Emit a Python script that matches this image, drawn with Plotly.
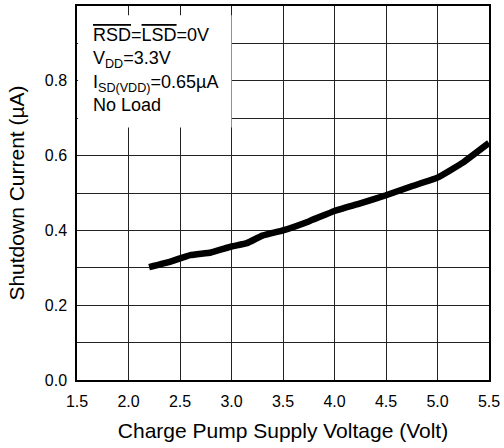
import plotly.graph_objects as go

voltage = [2.2, 2.4, 2.6, 2.8, 3.0, 3.15, 3.3, 3.5, 3.75, 4.0, 4.25, 4.5, 4.75, 5.0, 5.25, 5.5]
current = [0.302, 0.316, 0.334, 0.341, 0.357, 0.366, 0.386, 0.400, 0.424, 0.452, 0.472, 0.494, 0.518, 0.541, 0.582, 0.634]

x_ticks = [1.5, 2.0, 2.5, 3.0, 3.5, 4.0, 4.5, 5.0, 5.5]
x_labels = ["1.5", "2.0", "2.5", "3.0", "3.5", "4.0", "4.5", "5.0", "5.5"]
y_ticks = [0.0, 0.2, 0.4, 0.6, 0.8]
y_labels = ["0.0", "0.2", "0.4", "0.6", "0.8"]

note = ('<span style="text-decoration:overline">RSD</span>=<span style="text-decoration:overline">LSD</span>=0V<br>'
        'V<sub>DD</sub>=3.3V<br>'
        'I<sub>SD(VDD)</sub>=0.65\u00b5A<br>'
        'No Load')

font = "Liberation Sans, Arial, sans-serif"

fig = go.Figure()
fig.add_trace(go.Scatter(x=voltage, y=current, mode="lines",
                         line=dict(color="black", width=6.5, shape="spline", smoothing=0.3),
                         showlegend=False))

# white box behind the conditions text
fig.add_shape(type="rect", xref="x", yref="y", x0=1.51, x1=3.0, y0=0.675, y1=0.975,
              fillcolor="white", line=dict(width=0), layer="above")
fig.add_annotation(x=1.64, y=0.955, xref="x", yref="y", text=note, showarrow=False,
                   xanchor="left", yanchor="top", align="left",
                   font=dict(family=font, size=18, color="black"))

fig.update_xaxes(range=[1.5, 5.5], tickvals=x_ticks, ticktext=x_labels,
                 showgrid=True, gridcolor="#222", gridwidth=1,
                 showline=True, linecolor="black", linewidth=1.5, mirror=True,
                 ticks="", ticklabelstandoff=6, zeroline=False,
                 tickfont=dict(family=font, size=16, color="black"),
                 title=dict(text="Charge Pump Supply Voltage (Volt)", standoff=14,
                            font=dict(family=font, size=21, color="black")))
fig.update_yaxes(range=[0, 1.0], tickvals=y_ticks, ticktext=y_labels,
                 showgrid=True, gridcolor="#222", gridwidth=1,
                 minor=dict(dtick=0.1, tick0=0, showgrid=True, gridcolor="#222", gridwidth=1),
                 showline=True, linecolor="black", linewidth=1.5, mirror=True,
                 ticks="", ticklabelstandoff=5, zeroline=False,
                 tickfont=dict(family=font, size=16, color="black"),
                 title=dict(text="Shutdown Current (\u00b5A)", standoff=14,
                            font=dict(family=font, size=21, color="black")))
fig.update_layout(width=504, height=448, margin=dict(l=77, r=15, t=4, b=68),
                  plot_bgcolor="white", paper_bgcolor="white")

fig.write_html("out.html", config={"displayModeBar": False},
               post_script="document.body.style.margin='0';")
